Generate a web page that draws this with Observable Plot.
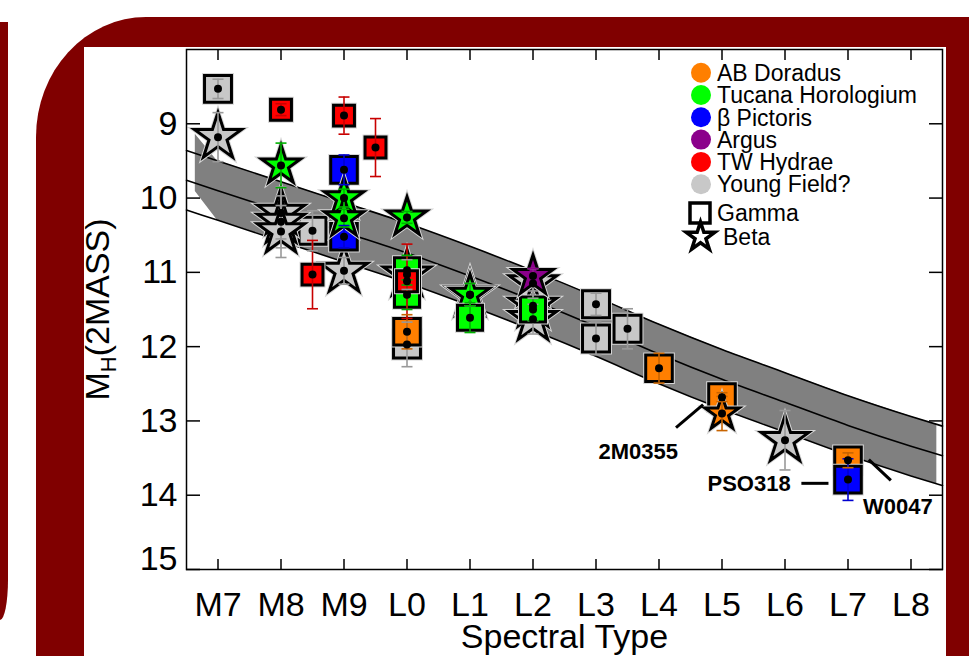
<!DOCTYPE html>
<html>
<head>
<meta charset="utf-8">
<script src="https://cdn.jsdelivr.net/npm/d3@7"></script>
<script src="https://cdn.jsdelivr.net/npm/@observablehq/plot@0.6"></script>
<style>
  body { margin: 0; background: #fff; }
  #wrap { position: relative; width: 969px; height: 656px; overflow: hidden; background: #fff;
          font-family: "Liberation Sans", Arial, Helvetica, sans-serif; }
  #strip { position: absolute; left: 0; top: 22px; width: 8px; height: 598px; background: #800000;
           border-bottom-right-radius: 8px 40px; }
  #panel { position: absolute; left: 36px; top: 17px; width: 960px; height: 700px; background: #800000;
           border-top-left-radius: 110px 120px; }
  #chart { position: absolute; left: 84px; top: 47px; width: 862px; height: 609px; background: #fff; }
  #legend { position: absolute; left: 0; top: 0; }
</style>
</head>
<body>
<div id="wrap">
  <div id="strip"></div>
  <div id="panel"></div>
  <div id="chart"></div>
  <svg id="legend" width="969" height="656"></svg>
</div>
<script>
// ---------------- data ----------------
const spectralTicks = [7, 8, 9, 10, 11, 12, 13, 14, 15, 16, 17, 18];
const spectralLabels = ["M7", "M8", "M9", "L0", "L1", "L2", "L3", "L4", "L5", "L6", "L7", "L8"];
const magTicks = [9, 10, 11, 12, 13, 14];
const lastMagTick = [15];

const groupNames = ["AB Doradus", "Tucana Horologium", "β Pictoris", "Argus", "TW Hydrae", "Young Field?"];
const groupFill = ["#ff7f00", "#00ff00", "#0000ff", "#8b008b", "#ff0000", "#c8c8c8"];
const groupErr = ["#c86400", "#00b000", "#0000d0", "#8b008b", "#c80000", "#999999"];
const shapeNames = ["Gamma", "Beta"];

// field sequence band (upper edge, middle, lower edge)
const bandSpT = [6.5, 7, 8, 9, 10, 11, 12, 13, 14, 15, 16, 17, 18, 18.5];
const bandUpper = [9.36, 9.50, 9.78, 10.06, 10.34, 10.65, 10.98, 11.33, 11.70, 12.04, 12.35, 12.66, 12.94, 13.07];
const bandMid   = [9.76, 9.90, 10.18, 10.46, 10.74, 11.05, 11.38, 11.73, 12.10, 12.44, 12.75, 13.06, 13.34, 13.47];
const bandLower = [10.16, 10.30, 10.58, 10.86, 11.14, 11.45, 11.78, 12.13, 12.50, 12.84, 13.15, 13.46, 13.74, 13.87];
// grey fill polygon
const fillSpT   = [6.64, 6.98, 7, 8, 9, 10, 11, 12, 13, 14, 15, 16, 17, 18, 18.41];
const fillUpper = [9.14, 9.49, 9.50, 9.78, 10.06, 10.34, 10.65, 10.98, 11.33, 11.70, 12.04, 12.35, 12.66, 12.94, 13.05];
const fillLower = [9.91, 10.29, 10.30, 10.58, 10.86, 11.14, 11.45, 11.78, 12.13, 12.50, 12.84, 13.15, 13.46, 13.74, 13.85];

// objects
const objGroup = [
  "Young Field?", "Young Field?", "Young Field?", "Young Field?", "Young Field?", "Young Field?",
  "Young Field?", "Young Field?", "Young Field?", "Young Field?", "Young Field?", "Young Field?",
  "Young Field?", "Young Field?", "Young Field?", "Young Field?", "Young Field?",
  "AB Doradus", "AB Doradus", "AB Doradus", "AB Doradus", "AB Doradus",
  "Tucana Horologium", "Tucana Horologium", "Tucana Horologium", "Tucana Horologium", "Tucana Horologium",
  "Tucana Horologium", "Tucana Horologium", "Tucana Horologium", "Tucana Horologium",
  "β Pictoris", "β Pictoris", "β Pictoris",
  "Argus",
  "TW Hydrae", "TW Hydrae", "TW Hydrae", "TW Hydrae", "TW Hydrae"
];
const objShape = [
  "Gamma", "Gamma", "Gamma", "Gamma", "Gamma", "Gamma",
  "Beta", "Beta", "Beta", "Beta", "Beta", "Beta",
  "Beta", "Beta", "Beta", "Beta", "Beta",
  "Gamma", "Gamma", "Gamma", "Gamma", "Beta",
  "Beta", "Beta", "Beta", "Beta", "Beta",
  "Gamma", "Gamma", "Gamma", "Gamma",
  "Gamma", "Gamma", "Gamma",
  "Beta",
  "Gamma", "Gamma", "Gamma", "Gamma", "Gamma"
];
const objSpT = [
  7, 8.5, 10, 13, 13, 13.5,
  7, 8, 8, 8, 9, 10,
  11, 12, 12, 12, 16,
  10, 14, 15, 17, 15,
  8, 9, 9, 10, 11,
  10, 10, 11, 12,
  9, 9, 17,
  12,
  8, 8.5, 9, 9.5, 10
];
const objMH = [
  8.53, 10.44, 11.97, 11.43, 11.89, 11.76,
  9.18, 10.20, 10.32, 10.45, 10.98, 11.03,
  11.30, 11.15, 11.45, 11.63, 13.26,
  11.80, 12.29, 12.68, 13.53, 12.90,
  9.56, 10.00, 10.27, 10.26, 11.30,
  10.97, 11.30, 11.61, 11.50,
  9.62, 10.52, 13.79,
  11.05,
  8.81, 11.03, 8.89, 9.32, 11.12
];
const objErr = [
  0.13, 0.27, 0.30, 0.15, 0.22, 0.27,
  0.33, 0.35, 0.35, 0.35, 0.18, 0.20,
  0.15, 0.20, 0.20, 0.20, 0.40,
  0.23, 0.20, 0.06, 0.10, 0.23,
  0.30, 0.12, 0.12, 0.08, 0.15,
  0.20, 0.20, 0.20, 0.15,
  0.20, 0.15, 0.28,
  0.10,
  0.08, 0.46, 0.25, 0.39, 0.50
];

// annotations
const noteText = ["2M0355", "PSO318", "W0047"];
const noteSpT = [13.67, 15.43, 17.79];
const noteMH = [13.42, 13.85, 14.16];
const leaderSpT1 = [14.27, 16.26, 17.33];
const leaderMH1 = [13.09, 13.84, 13.52];
const leaderSpT2 = [14.70, 16.69, 17.68];
const leaderMH2 = [12.78, 13.84, 13.80];

const yLabelText = "MH(2MASS)";
const xLabelText = "Spectral Type";

// ---------------- styles ----------------
const markerRadius = {
  "Young Field?|Gamma": 15.2, "Young Field?|Beta": 14.8,
  "AB Doradus|Gamma": 15.0, "AB Doradus|Beta": 10.8,
  "Tucana Horologium|Beta": 12.3, "Tucana Horologium|Gamma": 14.1,
  "β Pictoris|Gamma": 15.0, "Argus|Beta": 12.6, "TW Hydrae|Gamma": 11.8
};
const drawOrder = [
  ["Young Field?", "Gamma"], ["Young Field?", "Beta"], ["AB Doradus", "Gamma"], ["β Pictoris", "Gamma"],
  ["Tucana Horologium", "Beta"], ["Tucana Horologium", "Gamma"], ["TW Hydrae", "Gamma"],
  ["Argus", "Beta"], ["AB Doradus", "Beta"]
];
const fillOf = g => groupFill[groupNames.indexOf(g)];
const errOf = g => groupErr[groupNames.indexOf(g)];
const symbolOf = s => (s === "Gamma" ? "square" : "star");

// ---------------- build tables ----------------
const objects = objSpT.map((s, i) => ({group: objGroup[i], shape: objShape[i], spt: s, mh: objMH[i], err: objErr[i]}));
const band = bandSpT.map((s, i) => ({spt: s, up: bandUpper[i], mid: bandMid[i], lo: bandLower[i]}));
const fillBand = fillSpT.map((s, i) => ({spt: s, up: fillUpper[i], lo: fillLower[i]}));
const notes = noteText.map((t, i) => ({text: t, spt: noteSpT[i], mh: noteMH[i],
  x1: leaderSpT1[i], y1: leaderMH1[i], x2: leaderSpT2[i], y2: leaderMH2[i]}));

const capSymbol = {draw(ctx, size) { const w = Math.sqrt(size) / 2; ctx.moveTo(-w, 0); ctx.lineTo(w, 0); }};

const markerMarks = drawOrder.flatMap(([g, s]) => {
  const data = objects.filter(d => d.group === g && d.shape === s);
  const r = markerRadius[g + "|" + s];
  const symbol = symbolOf(s);
  return [
    Plot.dot(data, {x: "spt", y: "mh", symbol, r, fill: "none", stroke: "#d6d6d6", strokeWidth: 5}),
    Plot.dot(data, {x: "spt", y: "mh", symbol, r, fill: fillOf(g), stroke: "black", strokeWidth: 3})
  ];
});

const fmtSpT = d => spectralLabels[spectralTicks.indexOf(d)];
const fmtMag = d => String(d);

const chart = Plot.plot({
  width: 862, height: 609,
  marginLeft: 102, marginRight: 4, marginTop: 2, marginBottom: 87,
  x: {domain: [6.5, 18.5], label: null},
  y: {domain: [8, 15], reverse: true, label: null},
  color: {type: "identity"},
  style: {background: "white", fontFamily: "'Liberation Sans', Arial, Helvetica, sans-serif", fontSize: "34px", color: "black", overflow: "visible"},
  marks: [
    Plot.areaY(fillBand, {x: "spt", y1: "up", y2: "lo", fill: "#808080"}),
    Plot.line(band, {x: "spt", y: "up", stroke: "black", strokeWidth: 1.6, curve: "monotone-x"}),
    Plot.line(band, {x: "spt", y: "mid", stroke: "black", strokeWidth: 1.6, curve: "monotone-x"}),
    Plot.line(band, {x: "spt", y: "lo", stroke: "black", strokeWidth: 1.6, curve: "monotone-x"}),
    ...markerMarks,
    Plot.ruleX(objects, {x: "spt", y1: d => d.mh - d.err, y2: d => d.mh + d.err, stroke: d => errOf(d.group), strokeWidth: 1.6}),
    Plot.dot(objects, {x: "spt", y: d => d.mh - d.err, symbol: capSymbol, r: 6.2, fill: "none", stroke: d => errOf(d.group), strokeWidth: 1.6}),
    Plot.dot(objects, {x: "spt", y: d => d.mh + d.err, symbol: capSymbol, r: 6.2, fill: "none", stroke: d => errOf(d.group), strokeWidth: 1.6}),
    Plot.dot(objects, {x: "spt", y: "mh", r: 4, fill: "black", stroke: "none"}),
    Plot.link(notes, {x1: "x1", y1: "y1", x2: "x2", y2: "y2", stroke: "black", strokeWidth: 3}),
    Plot.text(notes, {x: "spt", y: "mh", text: "text", fontSize: 22, fontWeight: "bold", fill: "black"}),
    Plot.frame({stroke: "black", strokeWidth: 1.5}),
    Plot.axisX(spectralTicks, {anchor: "top", tickSize: 10, dy: 10, fill: "none", strokeWidth: 1.5, label: null}),
    Plot.axisX(spectralTicks, {anchor: "bottom", tickSize: 10, dy: -10, fill: "none", strokeWidth: 1.5, label: null}),
    Plot.axisX(spectralTicks, {anchor: "bottom", tickSize: 0, tickPadding: 22, tickFormat: fmtSpT, fontSize: 34, label: null}),
    Plot.axisY(magTicks.concat(lastMagTick), {anchor: "left", tickSize: 14, dx: 14, fill: "none", strokeWidth: 1.5, label: null}),
    Plot.axisY(magTicks.concat(lastMagTick), {anchor: "right", tickSize: 14, dx: -14, fill: "none", strokeWidth: 1.5, label: null}),
    Plot.axisY(magTicks, {anchor: "left", tickSize: 0, tickPadding: 9, tickFormat: fmtMag, fontSize: 34, label: null}),
    Plot.axisY(lastMagTick, {anchor: "left", tickSize: 0, tickPadding: 9, dy: -10, tickFormat: fmtMag, fontSize: 34, label: null}),
    Plot.text([xLabelText], {frameAnchor: "bottom", dy: 68, textAnchor: "middle", lineAnchor: "middle", fontSize: 34, fill: "black"}),
    Plot.text([yLabelText], {frameAnchor: "left", dx: -88, rotate: -90, textAnchor: "middle", lineAnchor: "middle", fontSize: 34, fill: "black"})
  ]
});
document.getElementById("chart").appendChild(chart);

// subscript H in the y label
d3.select(chart).selectAll("text").filter(function () { return this.textContent === yLabelText; })
  .each(function () {
    const t = d3.select(this);
    t.text(null);
    t.append("tspan").text("M");
    t.append("tspan").attr("font-size", "22px").attr("dy", "7").text("H");
    t.append("tspan").attr("dy", "-7").text("(2MASS)");
  });

// ---------------- legend ----------------
const leg = d3.select("#legend");
const legFont = "'Liberation Sans', Arial, Helvetica, sans-serif";
groupNames.forEach((g, i) => {
  const cy = 72.7 + i * 22.3;
  leg.append("circle").attr("cx", 701).attr("cy", cy).attr("r", 10).attr("fill", groupFill[i]);
  leg.append("text").attr("x", 717).attr("y", cy).attr("dy", "0.36em")
    .attr("font-family", legFont).attr("font-size", 23).attr("fill", "black").text(g);
});
leg.append("rect").attr("x", 690).attr("y", 203).attr("width", 20).attr("height", 20)
  .attr("fill", "white").attr("stroke", "black").attr("stroke-width", 3.5);
leg.append("text").attr("x", 717).attr("y", 213).attr("dy", "0.36em")
  .attr("font-family", legFont).attr("font-size", 23).attr("fill", "black").text(shapeNames[0]);
leg.append("path").attr("transform", "translate(700.5,237)")
  .attr("d", d3.symbol(d3.symbolStar, 15 * 15 / 0.8908)())
  .attr("fill", "white").attr("stroke", "black").attr("stroke-width", 3.5);
leg.append("text").attr("x", 723).attr("y", 237).attr("dy", "0.36em")
  .attr("font-family", legFont).attr("font-size", 23).attr("fill", "black").text(shapeNames[1]);
</script>
</body>
</html>
